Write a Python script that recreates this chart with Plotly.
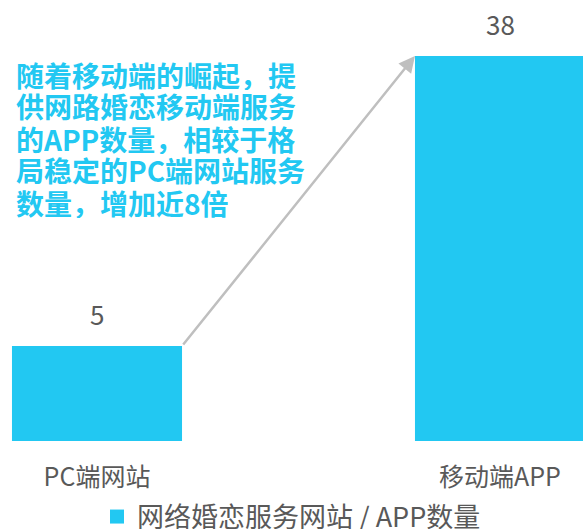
import math
import plotly.graph_objects as go

categories = ["PC端网站", "移动端APP"]
values = [5, 38]
series_name = "网络婚恋服务网站 / APP数量"
note_lines = [
    "随着移动端的崛起，提",
    "供网路婚恋移动端服务",
    "的APP数量，相较于格",
    "局稳定的PC端网站服务",
    "数量，增加近8倍",
]

BAR_COLOR = "#22C8F2"
GRAY = "#595959"
FONT = "Noto Sans CJK SC"
W, H = 583, 529
PLOT_H = 441
BARGAP = 0.578
BAR_W = 1 - BARGAP

fig = go.Figure()
fig.add_trace(go.Bar(
    x=categories, y=values, name=series_name,
    marker=dict(color=BAR_COLOR, line=dict(width=0)),
    hoverinfo="skip", showlegend=False,
))
fig.add_trace(go.Scatter(
    x=[None], y=[None], mode="markers", name=series_name,
    marker=dict(symbol="square", size=14, color=BAR_COLOR),
    hoverinfo="skip", showlegend=True,
))

annotations = []
for i, v in enumerate(values):
    annotations.append(dict(
        x=i, y=math.log10(v), xref="x", yref="y", text=str(v),
        showarrow=False, yanchor="middle", yshift=33,
        font=dict(family=FONT, size=26, color=GRAY),
    ))
annotations.append(dict(
    x=1 - BAR_W / 2, y=math.log10(values[1]), xref="x", yref="y",
    ax=BAR_W / 2, ay=math.log10(values[0]), axref="x", ayref="y",
    text="", showarrow=True, arrowhead=2, arrowsize=1.3, arrowwidth=2.5,
    arrowcolor="#BFBFBF", standoff=0, startstandoff=0,
))
line_centers = [74, 106, 138, 170, 202]
for txt, yc in zip(note_lines, line_centers):
    annotations.append(dict(
        x=15 / W, y=(PLOT_H - yc) / PLOT_H, xref="paper", yref="paper",
        xanchor="left", yanchor="middle", showarrow=False, text=txt,
        height=31, valign="middle", borderpad=0,
        font=dict(family=FONT, size=28, color=BAR_COLOR, weight="bold"),
    ))

fig.update_layout(
    width=W, height=H,
    margin=dict(l=0, r=0, t=0, b=H - PLOT_H, pad=0, autoexpand=False),
    paper_bgcolor="white", plot_bgcolor="white",
    bargap=BARGAP,
    xaxis=dict(
        type="category", range=[-97 / 403, 1 + 83 / 403],
        showgrid=False, zeroline=False, showline=False, ticks="",
        tickfont=dict(family=FONT, size=25, color=GRAY),
        ticklabelstandoff=19, automargin=False,
    ),
    yaxis=dict(
        type="log", range=[0.4105, 1.75], visible=False,
        showgrid=False, zeroline=False, automargin=False,
    ),
    legend=dict(
        orientation="h", x=0.5, xanchor="center", y=(PLOT_H - 517) / PLOT_H,
        yanchor="middle", font=dict(family=FONT, size=27, color=GRAY),
        itemclick=False, itemdoubleclick=False,
    ),
    annotations=annotations,
    showlegend=True,
)

css_fix = (
    "var s=document.createElement('style');"
    "s.textContent='html,body{margin:0;padding:0;overflow:hidden;}';"
    "document.head.appendChild(s);"
)
fig.write_html("out.html", config={"displayModeBar": False}, post_script=css_fix)
